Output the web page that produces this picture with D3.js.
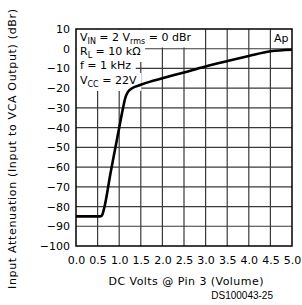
<!DOCTYPE html>
<html>
<head>
<meta charset="utf-8">
<script src="https://cdn.jsdelivr.net/npm/d3@7"></script>
<style>
  body { margin: 0; background: #fff; }
  text { font-family: "DejaVu Sans", sans-serif; fill: #000; }
</style>
</head>
<body>
<div id="chart"></div>
<script>
// values
const volts = [0, 0.55, 0.6, 0.65, 0.8, 0.9, 1.0, 1.08, 1.14, 1.2, 1.3, 1.5, 1.7, 2.0, 2.5, 3.0, 3.5, 4.0, 4.5, 5.0];
const atten = [-85, -85, -84.5, -81, -63, -51.5, -40, -31, -25, -22, -20, -18.3, -16.8, -15, -12, -9, -6.3, -3.7, -1.3, -0.5];
const xTicks = [0, 0.5, 1, 1.5, 2, 2.5, 3, 3.5, 4, 4.5, 5];
const yTicks = [10, 0, -10, -20, -30, -40, -50, -60, -70, -80, -90, -100];

const margin = { top: 29, right: 10, bottom: 59, left: 76 };
const W = 302, H = 305;
const width = W - margin.left - margin.right;
const height = H - margin.top - margin.bottom;

const svg = d3.select('#chart').append('svg')
  .attr('width', W)
  .attr('height', H);

const chart = svg.append('g')
  .attr('transform', `translate(${margin.left},${margin.top})`);

const xScale = d3.scaleLinear().domain([0, 5]).range([0, width]);
const yScale = d3.scaleLinear().domain([-100, 10]).range([height, 0]);

// grid
chart.append('g').selectAll('line')
  .data(xTicks.slice(1, -1))
  .enter().append('line')
  .attr('x1', d => xScale(d)).attr('x2', d => xScale(d))
  .attr('y1', 0).attr('y2', height)
  .attr('stroke', '#3a3a3a').attr('stroke-width', 1.2);

chart.append('g').selectAll('line')
  .data(yTicks.slice(1, -1))
  .enter().append('line')
  .attr('y1', d => yScale(d)).attr('y2', d => yScale(d))
  .attr('x1', 0).attr('x2', width)
  .attr('stroke', '#3a3a3a').attr('stroke-width', 1.2);

// axes (labels only)
const xaxis = d3.axisBottom(xScale).tickValues(xTicks).tickSize(0).tickPadding(10)
  .tickFormat(d3.format('.1f'));
const yaxis = d3.axisLeft(yScale).tickValues(yTicks).tickSize(0).tickPadding(6);

chart.append('g')
  .attr('transform', `translate(0,${height})`)
  .call(xaxis)
  .call(g => g.select('.domain').remove())
  .selectAll('text').attr('font-size', 11).attr('font-family', '"DejaVu Sans", sans-serif');

chart.append('g')
  .call(yaxis)
  .call(g => g.select('.domain').remove())
  .selectAll('text').attr('font-size', 11).attr('font-family', '"DejaVu Sans", sans-serif');

// conditions box (white background hides the grid behind the text)
const notes = chart.append('g');
const lines = [
  [['V', 0], ['IN', 1], [' = 2 V', 0], ['rms', 1], [' = 0 dBr', 0]],
  [['R', 0], ['L', 1], [' = 10 k\u03A9', 0]],
  [['f = 1 kHz', 0]],
  [['V', 0], ['CC', 1], [' = 22V', 0]]
];
const baselines = [12, 26, 40, 55];
lines.forEach((parts, i) => {
  const t = notes.append('text')
    .attr('x', 4)
    .attr('y', baselines[i])
    .attr('font-size', 11)
    .style('white-space', 'pre');
  parts.forEach(([s, sub], j) => {
    const prev = j > 0 ? parts[j - 1][1] : 0;
    t.append('tspan')
      .attr('font-size', sub ? 8 : 11)
      .attr('dy', sub && !prev ? 3 : (!sub && prev ? -3 : 0))
      .text(s);
  });
  const bb = t.node().getBBox();
  notes.insert('rect', 'text')
    .attr('x', 0.5)
    .attr('y', i === 0 ? 0.5 : bb.y - 1)
    .attr('width', bb.x + bb.width + 4)
    .attr('height', i === 0 ? bb.y + bb.height + 1 : bb.height + 3)
    .attr('fill', '#fff');
});

chart.append('text')
  .attr('x', xScale(4.75))
  .attr('y', 13)
  .attr('text-anchor', 'middle')
  .attr('font-size', 11)
  .text('Ap');

// curve
const line = d3.line()
  .x((d, i) => xScale(volts[i]))
  .y(d => yScale(d))
  .curve(d3.curveMonotoneX);

chart.append('path')
  .datum(atten)
  .attr('fill', 'none')
  .attr('stroke', '#000')
  .attr('stroke-width', 2.6)
  .attr('d', line);

// frame
chart.append('rect')
  .attr('width', width).attr('height', height)
  .attr('fill', 'none')
  .attr('stroke', '#000')
  .attr('stroke-width', 1.5);

// titles
svg.append('text')
  .attr('transform', 'translate(16,149) rotate(-90)')
  .attr('text-anchor', 'middle')
  .attr('font-size', 11)
  .attr('textLength', 280)
  .text('Input Attenuation (Input to VCA Output) (dBr)');

svg.append('text')
  .attr('x', margin.left + width / 2 + 2)
  .attr('y', 285)
  .attr('text-anchor', 'middle')
  .attr('font-size', 11)
  .attr('textLength', 155)
  .text('DC Volts @ Pin 3 (Volume)');

svg.append('text')
  .attr('x', 273)
  .attr('y', 299)
  .attr('text-anchor', 'end')
  .attr('font-size', 10)
  .style('font-family', '"Liberation Sans", Arial, sans-serif')
  .text('DS100043-25');
</script>
</body>
</html>
